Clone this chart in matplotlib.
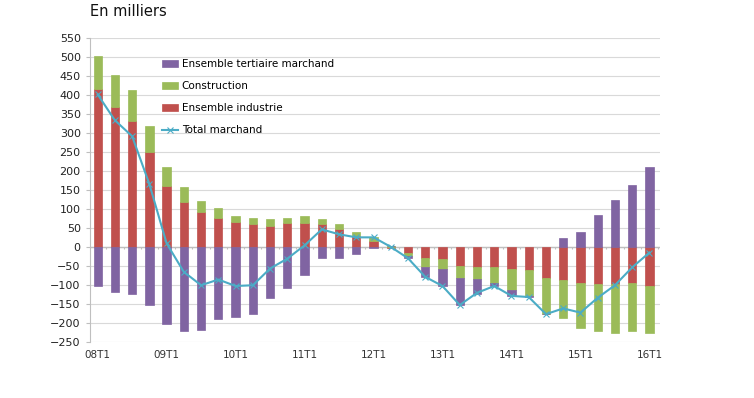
import numpy as np
import matplotlib.pyplot as plt

# Quarterly data, 08T1 -> 16T1 (in thousands)
quarters = [f"{y:02d}T{q}" for y in range(8, 16) for q in range(1, 5)] + ["16T1"]
industrie = [415, 367, 331, 250, 161, 119, 92, 77, 65, 60, 54, 63,
             63, 59, 46, 29, 16, -3, -15, -29, -31, -50, -53, -53,
             -59, -61, -83, -86, -96, -99, -98, -96, -103]
construction = [88, 85, 83, 68, 49, 39, 29, 24, 17, 17, 19, 13,
                19, 14, 15, 11, 10, 2, -8, -24, -26, -33, -32, -42,
                -55, -68, -93, -101, -117, -123, -128, -125, -123]
tertiaire = [-103, -120, -125, -154, -202, -222, -219, -189, -184, -177, -134, -108,
             -75, -30, -30, -18, -4, 1, -7, -26, -46, -70, -38, -8,
             -15, -2, -1, 22, 40, 85, 123, 162, 210]
total = [401, 333, 291, 165, 9, -66, -101, -86, -103, -101, -57, -31,
         4, 46, 33, 25, 25, 0, -30, -79, -103, -153, -121, -103,
         -129, -132, -177, -162, -173, -134, -101, -54, -15]

c_tert = '#8064A2'
c_cons = '#9BBB59'
c_ind = '#C0504D'
c_tot = '#4BACC6'

fig = plt.figure(figsize=(7.54, 3.98), dpi=100)
ax = fig.add_axes([0.119, 0.141, 0.756, 0.764])

x = np.arange(len(quarters))
ind = np.array(industrie, dtype=float)
cons = np.array(construction, dtype=float)
tert = np.array(tertiaire, dtype=float)

# stacking: positives go up from 0, negatives go down, order industrie, construction, tertiaire
pos = np.zeros(len(x))
neg = np.zeros(len(x))
bars = {}
for name, vals, col in [('Ensemble industrie', ind, c_ind),
                        ('Construction', cons, c_cons),
                        ('Ensemble tertiaire marchand', tert, c_tert)]:
    base = np.where(vals >= 0, pos, neg)
    bars[name] = ax.bar(x, vals, 0.48, bottom=base, color=col, edgecolor=col,
                        linewidth=0.5, zorder=2)
    pos = pos + np.where(vals >= 0, vals, 0)
    neg = neg + np.where(vals < 0, vals, 0)

line, = ax.plot(x, total, color=c_tot, lw=1.5, marker='x', ms=4, mew=0.8, zorder=3)

ax.set_xlim(-0.46, 32.6)
ax.set_ylim(-250, 550)
ax.set_yticks(np.arange(-250, 551, 50))
ax.yaxis.grid(True, color='#D9D9D9', lw=0.8, zorder=0)
ax.set_axisbelow(True)
ax.tick_params(axis='y', labelsize=8, length=3, color='#BFBFBF', labelcolor='#222222')

ax.set_xticks(x[::4])
ax.set_xticklabels(quarters[::4], fontsize=7.5, color='#333333')
ax.tick_params(axis='x', length=0, pad=6)

for s in ['top', 'right', 'bottom']:
    ax.spines[s].set_visible(False)
ax.spines['left'].set_color('#BFBFBF')

# zero line with category ticks between bars
ax.axhline(0, color='#BFBFBF', lw=1, zorder=1)
ax.vlines(np.arange(-0.5, len(x), 1), -6, 0, color='#BFBFBF', lw=0.8, zorder=1)

handles = [bars['Ensemble tertiaire marchand'], bars['Construction'],
           bars['Ensemble industrie'], line]
labels = ['Ensemble tertiaire marchand', 'Construction', 'Ensemble industrie', 'Total marchand']
ax.legend(handles, labels, loc='upper left', bbox_to_anchor=(0.11, 0.96), frameon=False,
          fontsize=7.5, labelspacing=1.15, handlelength=1.6, handleheight=0.6,
          handletextpad=0.3)

fig.text(0.119, 0.97, 'En milliers', fontsize=10.5, color='#111111', va='center')

fig.savefig('out.png', dpi=100)
